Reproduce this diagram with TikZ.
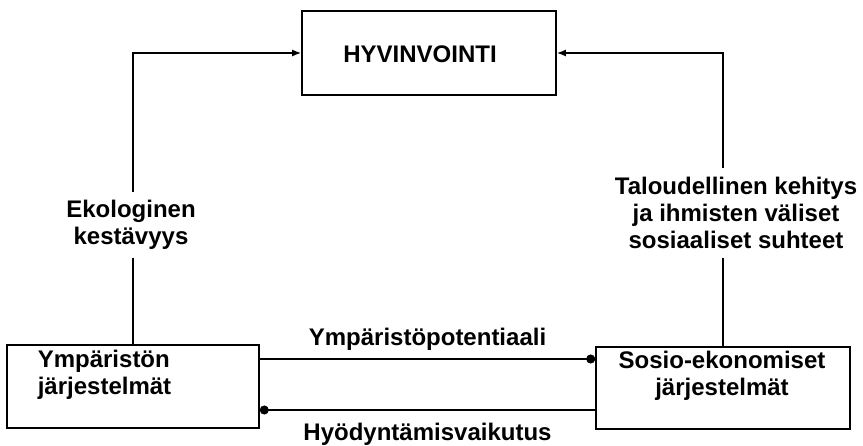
\documentclass[tikz,border=0pt]{standalone}
\usepackage{fontspec}
\setmainfont{Liberation Sans}
\usetikzlibrary{arrows.meta,positioning}

\begin{document}
\begin{tikzpicture}[x=1pt, y=-1pt, line width=1.6pt,
  box/.style={draw, minimum width=#1, minimum height=83pt, inner sep=0pt},
  lbl/.style={font=\fontsize{24}{27}\selectfont\bfseries, inner sep=0pt},
  gap/.style={lbl, align=center, inner ysep=8pt},
  tip/.style={-{Latex[length=9pt, width=7pt]}},
  dot/.style={-{Circle[length=9pt]}}]
\useasboundingbox (0,0) rectangle (863,446);
% boxes
\node[box=254pt, minimum height=84pt] (hyv) at (429,53) {};
\node[box=252pt] (ymp) at (133,386.5) {};
\node[box=254pt, minimum height=82pt] (sos) at (723,388) {};
\node[lbl] (hyvtxt) at (420,54) {HYVINVOINTI};
\node[lbl, align=left, anchor=west] (ymptxt) at (37,375) {Ympäristön\\ järjestelmät};
\node[lbl, align=center] (sostxt) at (722,376) {Sosio-ekonomiset\\järjestelmät};
% side labels
\node[gap] (eko) at (131,225) {Ekologinen\\kestävyys};
\node[gap] (tal) at (736,213) {Taloudellinen kehitys\\ja ihmisten väliset\\sosiaaliset suhteet};
% upward connectors
\draw[tip] (eko.north -| ymp.north) |- (hyv.west);
\draw (ymp.north) -- (eko.south -| ymp.north);
\draw[tip] (tal.north -| sos.north) |- (hyv.east);
\draw (sos.north) -- (tal.south -| sos.north);
% between the lower boxes
\draw[dot] ([yshift=27.5pt]ymp.east) -- ([yshift=27.5pt]ymp.east -| sos.west)
  node[lbl, midway, above=8pt] (pot) {Ympäristöpotentiaali};
\draw[dot] ([yshift=-22pt]sos.west) -- ([yshift=-22pt]sos.west -| ymp.east)
  node[lbl, midway, below=12pt] (hyo) {Hyödyntämisvaikutus};
\end{tikzpicture}
\end{document}
